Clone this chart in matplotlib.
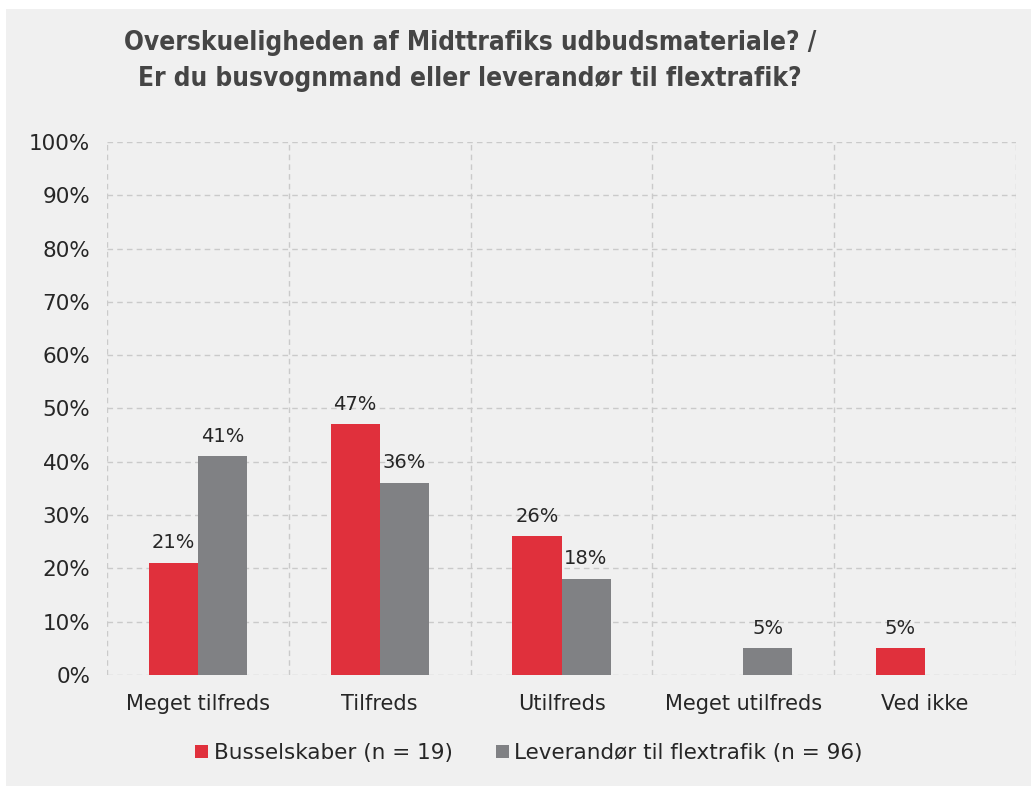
import matplotlib
matplotlib.use("Agg")
import matplotlib.pyplot as plt
from matplotlib.patches import Rectangle
import numpy as np

categories = ["Meget tilfreds", "Tilfreds", "Utilfreds", "Meget utilfreds", "Ved ikke"]
busselskaber = [21, 47, 26, 0, 5]
flextrafik = [41, 36, 18, 5, 0]
series_names = ["Busselskaber (n = 19)", "Leverandør til flextrafik (n = 96)"]
title = "Overskueligheden af Midttrafiks udbudsmateriale? /\nEr du busvognmand eller leverandør til flextrafik?"

red = "#e0303c"
grey = "#808184"
bg = "#f0f0f0"

fig = plt.figure(figsize=(10.31, 7.86), dpi=100)
fig.patch.set_facecolor("white")
# grey panel (leaves a thin white margin top and left)
fig.patches.append(Rectangle((6 / 1031, 0), 1, 1 - 9 / 786, transform=fig.transFigure,
                             facecolor=bg, edgecolor="none", zorder=-10))

ax = fig.add_axes([107 / 1031, 111 / 786, 909 / 1031, 533 / 786])
ax.set_facecolor(bg)

x = np.arange(len(categories))
w = 0.27
b1 = ax.bar(x - w / 2, busselskaber, w, color=red, label=series_names[0], zorder=3)
b2 = ax.bar(x + w / 2, flextrafik, w, color=grey, label=series_names[1], zorder=3)

for bars, vals in [(b1, busselskaber), (b2, flextrafik)]:
    for rect, v in zip(bars, vals):
        if v == 0:
            continue
        ax.text(rect.get_x() + rect.get_width() / 2, v + 2.0, f"{v}%",
                ha="center", va="bottom", fontsize=14, color="#262626")

ax.set_xlim(-0.5, len(categories) - 0.5)
ax.set_ylim(0, 100)
ax.set_yticks(np.arange(0, 101, 10))
ax.set_yticklabels([f"{t}%" for t in range(0, 101, 10)])
ax.set_xticks(x)
ax.set_xticklabels(categories)
ax.tick_params(axis="y", length=0, labelsize=15.5, labelcolor="#262626", pad=12)
ax.tick_params(axis="x", length=0, labelsize=15, labelcolor="#262626", pad=14)

# dashed grid: horizontal at every 10 %, vertical at category boundaries
for yv in range(0, 101, 10):
    ax.axhline(yv, color="#cacaca", lw=1, ls=(0, (4, 3)), zorder=1)
for xv in np.arange(-0.5, len(categories), 1):
    ax.axvline(xv, color="#cacaca", lw=1, ls=(0, (4, 3)), zorder=1)
for s in ax.spines.values():
    s.set_visible(False)

fig.text(470 / 1031, 1 - 61 / 786, title, ha="center", va="center", fontsize=18.8,
         fontstretch="condensed", fontweight="bold", color="#454545", linespacing=1.45,
         family="DejaVu Sans")

handles, labels = ax.get_legend_handles_labels()
fig.legend(handles, labels, loc="center", bbox_to_anchor=(529 / 1031, 1 - 753 / 786), ncol=2,
           frameon=False, fontsize=15.5, handlelength=0.6, handleheight=0.6, handletextpad=0.25,
           columnspacing=2.0, labelcolor="#262626")

fig.savefig("out.png", dpi=100, facecolor=fig.get_facecolor())
